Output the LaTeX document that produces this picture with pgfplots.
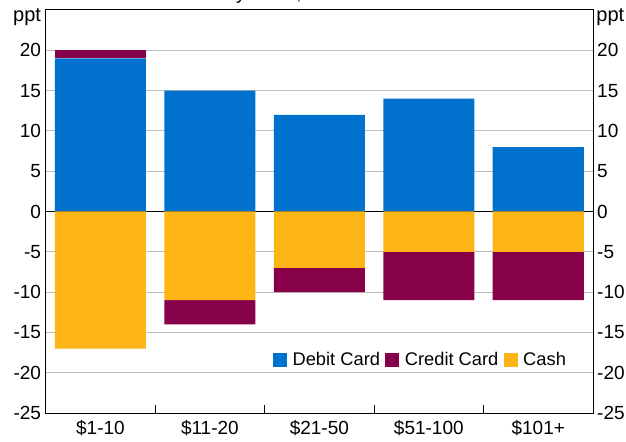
\documentclass[border=0pt]{standalone}
\usepackage{pgfplots}
\pgfplotsset{compat=1.18}
\usepackage{fontspec}
\setmainfont{Liberation Sans}
\definecolor{debit}{RGB}{0,114,206}
\definecolor{credit}{RGB}{135,0,74}
\definecolor{cash}{RGB}{253,181,21}
\newcommand{\chartfont}{\fontsize{18.3bp}{21bp}\selectfont}
\newcommand{\tickfont}{\fontsize{19bp}{22bp}\selectfont}
\begin{document}
\begin{tikzpicture}
\useasboundingbox (-45.7bp,-29bp) rectangle (580.3bp,413bp);
\pgfplotsset{
  common/.style={
    scale only axis, width=547.3bp, height=403bp,
    xmin=-0.5, xmax=4.5, ymin=-25, ymax=25,
    ytick={-25,-20,...,20},
    /pgf/number format/assume math mode=true,
    tick label style={font=\tickfont},
    ytick style={draw=none},
  }
}
\begin{axis}[common,
  ybar stacked, bar width=0.832,
  xtick={0,1,2,3,4},
  xticklabels={\$1-10,\$11-20,\$21-50,\$51-100,\$101+},
  minor xtick={0.5,1.5,2.5,3.5},
  major tick length=0pt, minor tick length=8bp,
  tick align=inside,
  xtick pos=left, ytick pos=left,
  xtick style={black, line width=0.8bp},
  xticklabel style={inner sep=0pt, yshift=-7.5bp},
  yticklabel style={inner sep=0pt, xshift=-4.5bp},
  ymajorgrids,
  grid style={color=black!25, line width=0.9bp},
  extra y ticks={0}, extra y tick labels={},
  extra y tick style={grid style={black, line width=0.9bp}},
  axis line style={black, line width=1bp},
  legend columns=3,
  legend style={at={(0.4153,0.1315)}, anchor=west, draw=none, fill=none,
    inner sep=0pt, font=\chartfont, nodes={inner sep=0pt},
    column sep=5.4bp},
  legend image code/.code={\fill[#1] (0bp,-7bp) rectangle (14bp,7bp);},
]
\addplot[fill=debit, draw=none] coordinates {(0,19) (1,15) (2,12) (3,14) (4,8)};
\addlegendentry{Debit Card}
\addplot[fill=credit, draw=none] coordinates {(0,1) (1,0) (2,0) (3,0) (4,0)};
\addlegendentry{Credit Card}
\addlegendimage{fill=cash, draw=none}
\addlegendentry{Cash}
\end{axis}
\begin{axis}[common,
  ybar stacked, bar width=0.832,
  hide x axis, axis y line*=right,
  axis line style={draw=none},
  yticklabel style={inner sep=0pt, anchor=west, xshift=4bp},
]
\addplot[fill=cash, draw=none] coordinates {(0,-17) (1,-11) (2,-7) (3,-5) (4,-5)};
\addplot[fill=credit, draw=none] coordinates {(0,0) (1,-3) (2,-3) (3,-6) (4,-6)};
\end{axis}
\node[anchor=base east, inner sep=0pt, font=\fontsize{20bp}{24bp}\selectfont] at (-4.5bp,391bp) {ppt};
\node[anchor=base west, inner sep=0pt, font=\fontsize{20bp}{24bp}\selectfont] at (550.5bp,391bp) {ppt};
\node[anchor=base, inner sep=0pt, font=\tickfont] at (276bp,413bp) {by value, 2010 to 2013};
\end{tikzpicture}
\end{document}
